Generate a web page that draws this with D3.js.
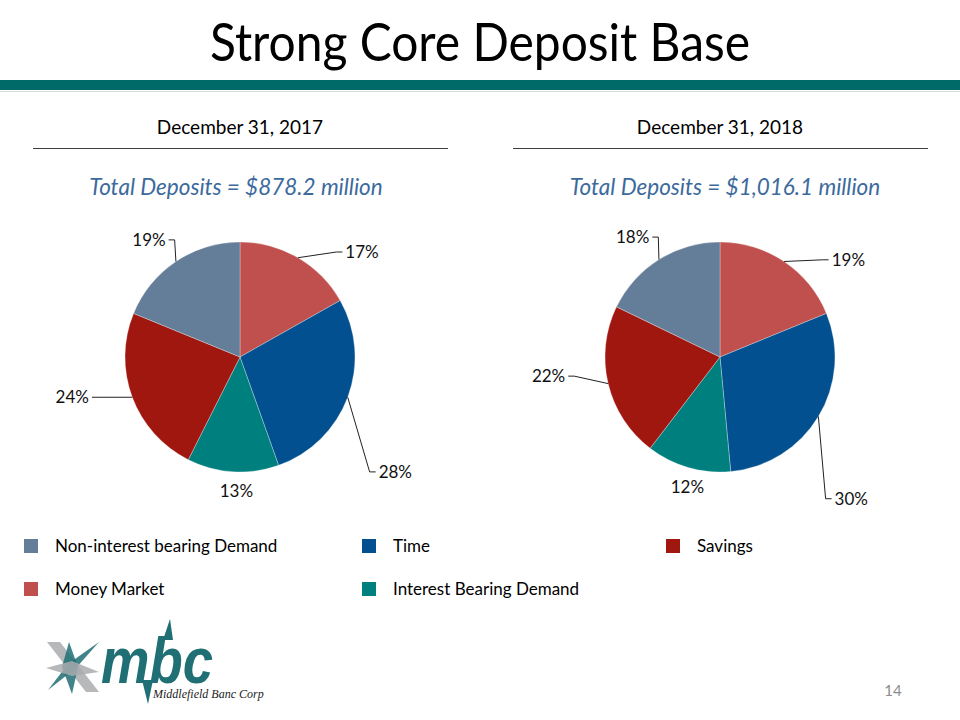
<!DOCTYPE html>
<html>
<head>
<meta charset="utf-8">
<script src="https://cdn.jsdelivr.net/npm/d3@7"></script>
<style>
	body { margin: 0; background: #fff; }
	svg { display: block; font-family: Lato, 'Open Sans', sans-serif; }
</style>
</head>
<body>
<svg id="chart" width="960" height="720"></svg>
<script>
// chart data
const categories = ['Money Market', 'Time', 'Interest Bearing Demand', 'Savings', 'Non-interest bearing Demand'];
const values2017 = [17, 28, 13, 24, 19];
const values2018 = [19, 30, 12, 22, 18];
const dates = ['December 31, 2017', 'December 31, 2018'];
const totals = ['Total Deposits = $878.2 million', 'Total Deposits = $1,016.1 million'];
const legendOrder = ['Non-interest bearing Demand', 'Time', 'Savings', 'Money Market', 'Interest Bearing Demand'];

const W = 960;
const R = 115;
const PIE_Y = 357;
const PIE_X = [240, 720];

const color = d3.scaleOrdinal()
	.domain(categories)
	.range(['#c0504d', '#02508f', '#007f7f', '#a0170f', '#647d98']);

// label placement, excel "best fit" style: nudge of angle (deg) and radius factor
const labelNudge = d3.scaleOrdinal().domain(categories).range([19, 16, -2, 7, -4]);
const labelRadius = d3.scaleOrdinal().domain(categories).range([1.4, 1.68, 1.17, 1.5, 1.29]);

const $svg = d3.select('#chart');

// header
$svg.append('text')
	.attr('x', W / 2)
	.attr('y', 61)
	.attr('text-anchor', 'middle')
	.attr('textLength', 540)
	.attr('lengthAdjust', 'spacingAndGlyphs')
	.style('font-size', '52px')
	.style('fill', '#000')
	.text('Strong Core Deposit Base');

$svg.append('rect').attr('x', 0).attr('y', 80).attr('width', W).attr('height', 10).attr('fill', '#006a69');
$svg.append('rect').attr('x', 0).attr('y', 91).attr('width', W).attr('height', 1).attr('fill', '#cfdede');

const pie = d3.pie().sort(null).value(d => d.value);
const arc = d3.arc().innerRadius(0).outerRadius(R);

function polar(angle, r) {
	return [Math.sin(angle) * r, -Math.cos(angle) * r];
}

function drawPie(i, values) {
	const cx = PIE_X[i];
	const data = categories.map((c, k) => ({ key: c, value: values[k] }));
	const total = d3.sum(values);

	// heading + underline
	$svg.append('text')
		.attr('x', cx)
		.attr('y', 134)
		.attr('text-anchor', 'middle')
		.style('font-size', '19px')
		.text(dates[i]);
	$svg.append('line')
		.attr('x1', cx - 207).attr('x2', cx + 208)
		.attr('y1', 148.5).attr('y2', 148.5)
		.attr('stroke', '#404040');

	$svg.append('text')
		.attr('x', cx + (i ? 5 : -4))
		.attr('y', 195)
		.attr('text-anchor', 'middle')
		.style('font-size', '22.5px')
		.style('font-style', 'italic')
		.style('fill', '#3c6a9c')
		.text(totals[i]);

	const $g = $svg.append('g').attr('transform', `translate(${cx},${PIE_Y})`);
	const arcs = pie(data);

	$g.selectAll('.slice')
		.data(arcs)
		.join('path')
		.attr('class', 'slice')
		.attr('d', arc)
		.attr('fill', d => color(d.data.key))
		.attr('stroke', '#fff')
		.attr('stroke-width', 0.3);

	arcs.forEach(d => {
		const mid = (d.startAngle + d.endAngle) / 2;
		const la = mid + labelNudge(d.data.key) * Math.PI / 180;
		const [lx, ly] = polar(la, R * labelRadius(d.data.key));
		const pct = `${Math.round(d.value / total * 101)}%`;

		const $t = $g.append('text')
			.attr('x', lx)
			.attr('y', ly)
			.attr('dy', '0.35em')
			.attr('text-anchor', 'middle')
			.style('font-size', '17px')
			.style('fill', '#111')
			.text(pct);
		const box = $t.node().getBBox();

		// leader line from edge of slice to nearest side of the label
		const [ex, ey] = polar(mid, R);
		let pts;
		if (Math.abs(lx) > 60) {
			const side = lx > 0 ? -1 : 1;
			const endX = lx + side * (box.width / 2 + 3);
			pts = [[ex, ey], [endX + side * 6, ly], [endX, ly]];
		} else {
			const endY = ly - (box.height / 2 + 1);
			pts = [[ex, ey], [lx, endY]];
		}
		const last = pts[pts.length - 1];
		if (Math.hypot(last[0] - ex, last[1] - ey) > 9) {
			$g.append('path')
				.attr('d', d3.line()(pts))
				.attr('fill', 'none')
				.attr('stroke', '#222')
				.attr('stroke-width', 1);
		}
	});
}

drawPie(0, values2017);
drawPie(1, values2018);

// legend
const legX = [24, 362, 666];
const legY = [546, 589];
const $leg = $svg.append('g').attr('class', 'legend');
legendOrder.forEach((c, k) => {
	const x = legX[k % 3];
	const y = legY[Math.floor(k / 3)];
	$leg.append('rect')
		.attr('x', x).attr('y', y - 7)
		.attr('width', 14).attr('height', 14)
		.attr('fill', color(c));
	$leg.append('text')
		.attr('x', x + 31)
		.attr('y', y)
		.attr('dy', '0.35em')
		.style('font-size', '17px')
		.text(c);
});

// logo
const $logo = $svg.append('g').attr('class', 'logo');
const teal = '#1f6f74';
const grey = '#a9abae';
const mark = [
	{ pts: [[47, 642], [60, 642], [99, 692], [86, 692]], fill: grey },
	{ pts: [[99, 642], [76, 668], [48, 690], [68, 664]], fill: teal },
	{ pts: [[69, 642], [78, 667], [72, 694], [62, 667]], fill: teal },
	{ pts: [[46, 668], [72, 661], [99, 672], [72, 676]], fill: grey }
];
mark.forEach(m => {
	$logo.append('polygon')
		.attr('points', m.pts.map(p => p.join(',')).join(' '))
		.attr('fill', m.fill)
		.attr('opacity', 0.85);
});
$logo.append('polygon')
	.attr('points', '163,640 170,619 173,640')
	.attr('fill', teal);
$logo.append('polygon')
	.attr('points', '142,680 148,704 153,680')
	.attr('fill', teal);
$logo.append('text')
	.attr('x', 101)
	.attr('y', 683)
	.style('font-family', "'Liberation Sans', Arial, sans-serif")
	.style('font-weight', 'bold')
	.style('font-style', 'italic')
	.style('font-size', '64px')
	.style('fill', teal)
	.attr('textLength', 112)
	.attr('lengthAdjust', 'spacingAndGlyphs')
	.text('mbc');
$logo.append('text')
	.attr('x', 153)
	.attr('y', 698)
	.style('font-family', "'Liberation Serif', serif")
	.style('font-style', 'italic')
	.style('font-size', '12px')
	.style('fill', '#222')
	.text('Middlefield Banc Corp');

$svg.append('text')
	.attr('x', 893)
	.attr('y', 696)
	.attr('text-anchor', 'middle')
	.style('font-size', '15px')
	.style('fill', '#8c8c8c')
	.text('14');
</script>
</body>
</html>
